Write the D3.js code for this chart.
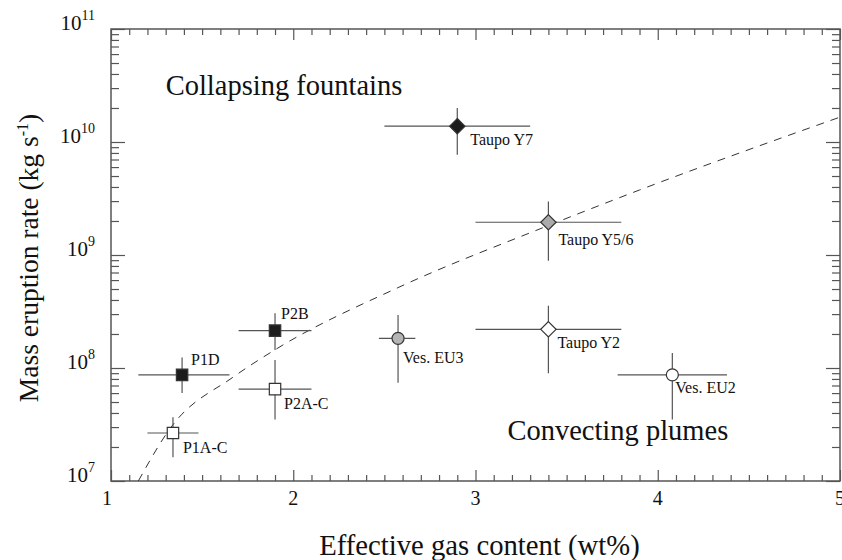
<!DOCTYPE html>
<html>
<head>
<meta charset="utf-8">
<script src="https://cdn.jsdelivr.net/npm/d3@7"></script>
<style>
  body { margin: 0; background: #fff; }
  svg text { font-family: "Liberation Serif", "DejaVu Serif", serif; fill: #111; }
</style>
</head>
<body>
<div id="chart"></div>
<script>
"use strict";

// eruption data
const names = ["P1A-C", "P1D", "P2A-C", "P2B", "Ves. EU3", "Ves. EU2", "Taupo Y2", "Taupo Y5/6", "Taupo Y7"];
const gas = [1.34, 1.39, 1.9, 1.9, 2.575, 4.08, 3.4, 3.4, 2.9];
const gasLow = [1.2, 1.15, 1.7, 1.7, 2.47, 3.78, 3.0, 3.0, 2.5];
const gasHigh = [1.48, 1.65, 2.1, 2.1, 2.67, 4.38, 3.8, 3.8, 3.3];
const rate = [2.66e7, 8.7e7, 6.5e7, 2.14e8, 1.83e8, 8.7e7, 2.2e8, 1.95e9, 1.38e10];
const rateLow = [1.62e7, 6.0e7, 3.5e7, 1.44e8, 7.4e7, 3.5e7, 9.0e7, 8.9e8, 7.7e9];
const rateHigh = [3.66e7, 1.24e8, 1.18e8, 3.05e8, 2.95e8, 1.36e8, 3.56e8, 2.97e9, 2.0e10];

// collapse threshold (dashed curve)
const curveGas = [1.15, 1.33, 1.67, 1.9, 2.57, 3.38, 3.9, 5.0];
const curveRate = [1e7, 3.0e7, 8.3e7, 1.45e8, 5.1e8, 1.77e9, 3.76e9, 1.66e10];

const xTicks = [1, 2, 3, 4, 5];
const yExponents = [7, 8, 9, 10, 11];

const margin = { top: 29, right: 2, bottom: 79, left: 111 };
const _width = 842;
const _height = 560;
const width = _width - margin.left - margin.right;
const height = _height - margin.top - margin.bottom;
const serif = "'Liberation Serif', 'DejaVu Serif', serif";

const svg = d3
  .select("#chart")
  .append("svg")
  .attr("width", _width)
  .attr("height", _height)
  .attr("font-family", serif)
  .append("g")
  .attr("transform", `translate(${margin.left},${margin.top})`);

const x = d3.scaleLinear().domain([1, 5]).range([0, width]);
const y = d3.scaleLog().domain([1e7, 1e11]).range([height, 0]);

const axisColor = "#555";

// minor / major ticks, all pointing inward
const minorX = d3.range(1, 5.001, 0.1).filter((d) => Math.abs(d - Math.round(d)) > 0.01);
const minorY = [];
yExponents.slice(0, -1).forEach((e) => {
  for (let k = 2; k <= 9; k++) minorY.push(k * Math.pow(10, e));
});
const majorY = yExponents.map((e) => Math.pow(10, e));

const styleAxis = (g) => {
  g.select(".domain").remove();
  g.selectAll("line").attr("stroke", axisColor).attr("stroke-width", 1.2);
  g.selectAll("text").remove();
};

svg.append("g").attr("transform", `translate(0,${height})`)
  .call(d3.axisBottom(x).tickValues(minorX).tickSize(-6)).call(styleAxis);
svg.append("g").attr("transform", `translate(0,${height})`)
  .call(d3.axisBottom(x).tickValues(xTicks).tickSize(-11)).call(styleAxis);
svg.append("g")
  .call(d3.axisTop(x).tickValues(minorX).tickSize(-6)).call(styleAxis);
svg.append("g")
  .call(d3.axisTop(x).tickValues(xTicks).tickSize(-11)).call(styleAxis);
svg.append("g")
  .call(d3.axisLeft(y).tickValues(minorY).tickSize(-8)).call(styleAxis);
svg.append("g")
  .call(d3.axisLeft(y).tickValues(majorY).tickSize(-14)).call(styleAxis);
svg.append("g").attr("transform", `translate(${width},0)`)
  .call(d3.axisRight(y).tickValues(minorY).tickSize(-8)).call(styleAxis);
svg.append("g").attr("transform", `translate(${width},0)`)
  .call(d3.axisRight(y).tickValues(majorY).tickSize(-14)).call(styleAxis);

// frame
svg.append("rect")
  .attr("width", width)
  .attr("height", height)
  .attr("fill", "none")
  .attr("stroke", axisColor)
  .attr("stroke-width", 1.5);

// tick labels
svg.selectAll(".xlabel")
  .data(xTicks)
  .enter()
  .append("text")
  .attr("class", "xlabel")
  .attr("x", (d) => x(d) - (d === 1 ? 4 : 0))
  .attr("y", height + 24)
  .attr("text-anchor", "middle")
  .attr("font-family", serif)
  .attr("font-size", "20px")
  .text((d) => d);

const ylab = svg.selectAll(".ylabel")
  .data(yExponents)
  .enter()
  .append("text")
  .attr("class", "ylabel")
  .attr("x", -16)
  .attr("y", (d) => y(Math.pow(10, d)) + 1)
  .attr("text-anchor", "end")
  .attr("font-family", serif)
  .attr("font-size", "21px");
ylab.append("tspan").text("10");
ylab.append("tspan").attr("dy", -10).attr("font-size", "14px").text((d) => d);

// axis titles
svg.append("text")
  .attr("x", width / 2 + 4)
  .attr("y", height + 74)
  .attr("text-anchor", "middle")
  .attr("font-family", serif)
  .attr("font-size", "28.7px")
  .text("Effective gas content (wt%)");

const ytitle = svg.append("text")
  .attr("transform", `translate(${-73},${height / 2 + 3}) rotate(-90)`)
  .attr("text-anchor", "middle")
  .attr("font-family", serif)
  .attr("font-size", "27.5px");
ytitle.append("tspan").text("Mass eruption rate (kg s");
ytitle.append("tspan").attr("dy", -10).attr("font-size", "16px").text("-1");
ytitle.append("tspan").attr("dy", 10).text(")");

// region labels
svg.append("text")
  .attr("x", x(1.3))
  .attr("y", y(2.6e10))
  .attr("font-family", serif)
  .attr("font-size", "28.5px")
  .text("Collapsing fountains");

svg.append("text")
  .attr("x", x(3.175))
  .attr("y", y(2.3e7))
  .attr("font-family", serif)
  .attr("font-size", "28.5px")
  .text("Convecting plumes");

// dashed threshold curve
svg.append("clipPath").attr("id", "plot-clip")
  .append("rect").attr("width", width).attr("height", height);

const line = d3.line()
  .x((d, i) => x(curveGas[i]))
  .y((d, i) => y(curveRate[i]))
  .curve(d3.curveMonotoneX);

svg.append("path")
  .attr("clip-path", "url(#plot-clip)")
  .attr("d", line(curveGas))
  .attr("fill", "none")
  .attr("stroke", "#333")
  .attr("stroke-width", 1)
  .attr("stroke-dasharray", "8,7");

// marker style per eruption
const markerStyle = {
  "P1A-C": { shape: d3.symbolSquare, size: 130, fill: "#fff" },
  "P1D": { shape: d3.symbolSquare, size: 130, fill: "#1c1c1c" },
  "P2A-C": { shape: d3.symbolSquare, size: 130, fill: "#fff" },
  "P2B": { shape: d3.symbolSquare, size: 130, fill: "#1c1c1c" },
  "Ves. EU3": { shape: d3.symbolCircle, size: 115, fill: "#b4b4b4" },
  "Ves. EU2": { shape: d3.symbolCircle, size: 115, fill: "#fff" },
  "Taupo Y2": { shape: d3.symbolDiamond2, size: 150, fill: "#fff" },
  "Taupo Y5/6": { shape: d3.symbolDiamond2, size: 150, fill: "#aaaaaa" },
  "Taupo Y7": { shape: d3.symbolDiamond2, size: 150, fill: "#1c1c1c" }
};
const labelOffset = {
  "P1A-C": [10, 20], "P1D": [9, -10], "P2A-C": [9, 20], "P2B": [6, -12],
  "Ves. EU3": [5, 25], "Ves. EU2": [3, 18], "Taupo Y2": [9, 19],
  "Taupo Y5/6": [10, 23], "Taupo Y7": [13, 19]
};

const idx = d3.range(names.length);
const errColor = "#555";

svg.selectAll(".xerr").data(idx).enter().append("line")
  .attr("x1", (i) => x(gasLow[i])).attr("x2", (i) => x(gasHigh[i]))
  .attr("y1", (i) => y(rate[i])).attr("y2", (i) => y(rate[i]))
  .attr("stroke", errColor).attr("stroke-width", 1.2);

svg.selectAll(".yerr").data(idx).enter().append("line")
  .attr("x1", (i) => x(gas[i])).attr("x2", (i) => x(gas[i]))
  .attr("y1", (i) => y(rateLow[i])).attr("y2", (i) => y(rateHigh[i]))
  .attr("stroke", errColor).attr("stroke-width", 1.2);

svg.selectAll(".marker").data(idx).enter().append("path")
  .attr("transform", (i) => `translate(${x(gas[i])},${y(rate[i])})`)
  .attr("d", (i) => d3.symbol().type(markerStyle[names[i]].shape).size(markerStyle[names[i]].size)())
  .attr("fill", (i) => markerStyle[names[i]].fill)
  .attr("stroke", "#333")
  .attr("stroke-width", 1.2);

svg.selectAll(".plabel").data(idx).enter().append("text")
  .attr("x", (i) => x(gas[i]) + labelOffset[names[i]][0])
  .attr("y", (i) => y(rate[i]) + labelOffset[names[i]][1])
  .attr("font-family", serif)
  .attr("font-size", "16px")
  .text((i) => names[i]);
</script>
</body>
</html>
